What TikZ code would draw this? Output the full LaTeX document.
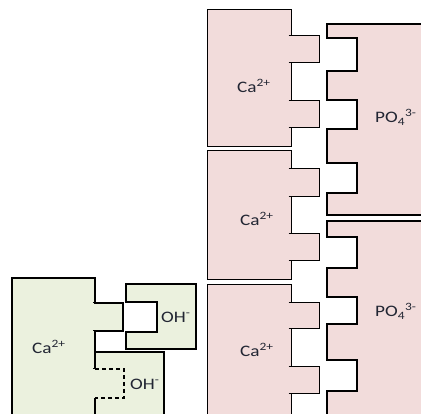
\documentclass[tikz,border=0pt]{standalone}
\usepackage{fontspec}
\setmainfont{Carlito}
\newfontfamily\lblfont[FakeStretch=1.2]{Carlito}
\definecolor{pinkfill}{HTML}{F2DCDB}
\definecolor{greenfill}{HTML}{EBF1DE}
\definecolor{txt}{HTML}{222633}
\tikzset{
  cabox/.style={fill=pinkfill, draw=black, line width=1pt, line join=miter},
  pobox/.style={fill=pinkfill, draw=black, line width=2.8pt, line join=miter},
  grfill/.style={fill=greenfill, draw=none},
  grline/.style={draw=black, line width=1.1pt, line join=miter},
  grdash/.style={draw=black, line width=1.1pt, dash pattern=on 4pt off 3pt},
  tick/.style={draw=black, line width=1pt},
  lbl/.style={anchor=base west, inner sep=0pt, text=txt, font=\lblfont\fontsize{16}{19}\selectfont},
}
\begin{document}
\begin{tikzpicture}[x=1pt,y=-1pt]
\useasboundingbox (0,0) rectangle (421,414);
\clip (0,0) rectangle (421,414);
% ---- pink Ca boxes ----
\draw[cabox] (207,10) -- (291,10) -- (291,36) -- (319,36) -- (319,63) -- (291,63) -- (291,101) -- (319,101) -- (319,128) -- (291,128) -- (291,147) -- (207,147) -- cycle;
\draw[cabox] (207,151) -- (291,151) -- (291,169) -- (319,169) -- (319,197) -- (291,197) -- (291,234) -- (319,234) -- (319,261) -- (291,261) -- (291,280) -- (207,280) -- cycle;
\draw[cabox] (207,285) -- (291,285) -- (291,303) -- (319,303) -- (319,329) -- (291,329) -- (291,367) -- (319,367) -- (319,394) -- (291,394) -- (291,425) -- (207,425) -- cycle;
\foreach \yy in {36,63,101,128,169,197,234,261,303,329,367,394}
  \draw[tick] (288.5,\yy) -- (291,\yy);
% ---- PO4 boxes ----
\draw[pobox] (435,24) -- (327,24) -- (327,38) -- (357,38) -- (357,71) -- (327,71) -- (327,100) -- (357,100) -- (357,129) -- (327,129) -- (327,163) -- (357,163) -- (357,193) -- (327,193) -- (327,215) -- (435,215) -- cycle;
\draw[pobox] (435,221) -- (327,221) -- (327,237) -- (357,237) -- (357,268) -- (327,268) -- (327,297) -- (357,297) -- (357,324) -- (327,324) -- (327,360) -- (357,360) -- (357,391) -- (327,391) -- (327,425) -- (435,425) -- cycle;
% ---- green section ----
\path[grfill] (95,352) rectangle (164,425);
\draw[grline] (95,352) -- (164,352) -- (164,425);
\path[grfill] (12,425) -- (12,278) -- (95,278) -- (95,303) -- (123,303) -- (123,331) -- (95,331) -- (95,425) -- cycle;
\draw[grline] (12,425) -- (12,278) -- (95,278) -- (95,303) -- (123,303) -- (123,331) -- (95,331) -- (95,369);
\draw[grline] (95,398) -- (95,425);
\draw[grdash] (95,369) -- (124,369) -- (124,398) -- (95,398);
\foreach \yy in {303,331,369}
  \draw[tick] (93,\yy) -- (95,\yy);
\draw[grline, fill=greenfill] (126,284) -- (196,284) -- (196,349) -- (126,349) -- (126,332) -- (157,332) -- (157,302) -- (126,302) -- cycle;
% ---- labels ----
\node[lbl] (ca1) at (237,93) {Ca\textsuperscript{2+}};
\node[lbl] (ca2) at (240,226) {Ca\textsuperscript{2+}};
\node[lbl] (ca3) at (240,357) {Ca\textsuperscript{2+}};
\node[lbl] (po1) at (375,123) {PO\textsubscript{4}\textsuperscript{3-}};
\node[lbl] (po2) at (375,317) {PO\textsubscript{4}\textsuperscript{3-}};
\node[lbl] (ca4) at (32,354) {Ca\textsuperscript{2+}};
\node[lbl] (oh1) at (161,323) {OH\textsuperscript{-}};
\node[lbl] (oh2) at (130,390) {OH\textsuperscript{-}};
\end{tikzpicture}
\end{document}
